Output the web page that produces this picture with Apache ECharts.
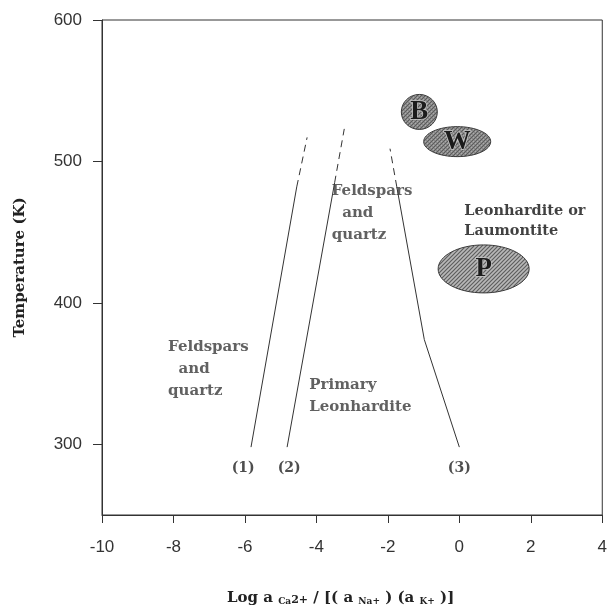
<!DOCTYPE html>
<html>
<head>
<meta charset="utf-8">
<script src="https://cdn.jsdelivr.net/npm/echarts@6/dist/echarts.min.js"></script>
<style>html,body{margin:0;padding:0;background:#fff;}#c{width:610px;height:608px;}</style>
</head>
<body>
<div id="c"></div>
<script>
// ---- data ----
const xMin = -10, xMax = 4, xInterval = 2;
const yMin = 250, yMax = 600;
const yTicks = [300, 400, 500, 600];

// boundary lines (x = log activity ratio, y = temperature K)
const line1Solid = [[-5.83, 298], [-4.55, 482]];
const line1Dashed = [[-4.55, 482], [-4.26, 517]];
const line2Solid = [[-4.82, 298], [-3.49, 485]];
const line2Dashed = [[-3.49, 485], [-3.22, 523]];
const line3Solid = [[0.0, 298], [-0.98, 374], [-1.75, 482]];
const line3Dashed = [[-1.75, 482], [-1.94, 509]];

// sample fields
const fieldNames = ['B', 'W', 'P'];
const fieldCenters = [[-1.12, 535], [-0.06, 514], [0.68, 424]];

// annotations
const annoLabels = ['(1)', '(2)', '(3)'];
const annoLabelPos = [[-6.05, 283], [-4.76, 283], [0.0, 283]];
const regionTexts = ['Feldspars\n  and\nquartz', 'Feldspars\n  and\nquartz', 'Primary\nLeonhardite'];
const regionPos = [[-8.15, 353], [-3.57, 463.5], [-4.2, 334]];
const darkText = 'Leonhardite or\nLaumontite';
const darkTextPos = [0.14, 458];

// ---- patterns ----
function stipple(bg, dark, light) {
  const c = document.createElement('canvas');
  c.width = 4; c.height = 4;
  const g = c.getContext('2d');
  g.fillStyle = bg; g.fillRect(0, 0, 4, 4);
  g.fillStyle = dark;
  g.fillRect(0, 0, 1, 1); g.fillRect(2, 2, 1, 1); g.fillRect(1, 3, 1, 1); g.fillRect(3, 1, 1, 1);
  g.fillStyle = light;
  g.fillRect(1, 1, 1, 1); g.fillRect(3, 3, 1, 1);
  return c;
}
function hatch(bg, fg) {
  const c = document.createElement('canvas');
  c.width = 4; c.height = 4;
  const g = c.getContext('2d');
  g.fillStyle = bg; g.fillRect(0, 0, 4, 4);
  g.strokeStyle = fg; g.lineWidth = 1.2;
  g.beginPath();
  g.moveTo(0, 4); g.lineTo(4, 0);
  g.moveTo(-1, 1); g.lineTo(1, -1);
  g.moveTo(3, 5); g.lineTo(5, 3);
  g.stroke();
  return c;
}
const patBW = { image: stipple('#888888', '#5c5c5c', '#acacac'), repeat: 'repeat' };
const patP = { image: hatch('#b8b8b8', '#5e5e5e'), repeat: 'repeat' };
const fieldSizes = [[36, 35], [67, 30], [91, 48]];
const fieldFills = [patBW, patBW, patP];

const serif = 'DejaVu Serif';
const lineStyleBase = { color: '#333', width: 1 };

function lineSeries(data, dashed) {
  return {
    type: 'line', data: data, symbol: 'none', silent: true, z: 2,
    lineStyle: Object.assign({}, lineStyleBase, { type: dashed ? [7, 5] : 'solid' })
  };
}

const chart = echarts.init(document.getElementById('c'), null, { renderer: 'canvas' });
chart.setOption({
  animation: false,
  backgroundColor: '#fff',
  title: {
    text: '{b|Log a }{s|Ca}{m|2+}{b| / [( a }{s|Na+}{b| ) (a }{s|K+}{b| )]}',
    left: 222, top: 586,
    textStyle: {
      rich: {
        b: { fontFamily: serif, fontWeight: 'bold', fontSize: 15, color: '#222', verticalAlign: 'bottom' },
        s: { fontFamily: serif, fontWeight: 'bold', fontSize: 9, color: '#222', verticalAlign: 'bottom' },
        m: { fontFamily: serif, fontWeight: 'bold', fontSize: 11, color: '#222', verticalAlign: 'bottom' }
      }
    }
  },
  grid: { left: 102, right: 4, top: 20, bottom: 93, show: true, borderColor: '#333', borderWidth: 1 },
  xAxis: {
    type: 'value', min: xMin, max: xMax, interval: xInterval,
    axisLine: { show: true, onZero: false, lineStyle: { color: '#333' } },
    axisTick: { show: true, length: 8, lineStyle: { color: '#333' } },
    splitLine: { show: false },
    axisLabel: { margin: 24, fontFamily: 'Liberation Sans', fontSize: 17, color: '#333', showMaxLabel: true }
  },
  yAxis: {
    type: 'value', min: yMin, max: yMax,
    name: 'Temperature (K)', nameLocation: 'middle', nameRotate: 90, nameGap: 74,
    nameTextStyle: { fontFamily: serif, fontWeight: 'bold', fontSize: 15, color: '#222' },
    axisLine: { show: true, onZero: false, lineStyle: { color: '#333' } },
    axisTick: { show: true, length: 9, customValues: yTicks, lineStyle: { color: '#333' } },
    splitLine: { show: false },
    axisLabel: { margin: 20, fontFamily: 'Liberation Sans', fontSize: 17, color: '#333', customValues: yTicks }
  },
  series: [
    lineSeries(line1Solid, false), lineSeries(line1Dashed, true),
    lineSeries(line2Solid, false), lineSeries(line2Dashed, true),
    lineSeries(line3Solid, false), lineSeries(line3Dashed, true),
    {
      type: 'custom', silent: true, z: 4,
      data: fieldNames.map((n, i) => ({ name: n, value: fieldCenters[i] })),
      renderItem: function (params, api) {
        const i = params.dataIndex;
        const p = api.coord([api.value(0), api.value(1)]);
        return {
          type: 'ellipse',
          shape: { cx: p[0], cy: p[1], rx: fieldSizes[i][0] / 2, ry: fieldSizes[i][1] / 2 },
          style: { fill: fieldFills[i], stroke: '#3a3a3a', lineWidth: 1 },
          textContent: {
            style: {
              text: fieldNames[i], fontFamily: 'Liberation Serif', fontWeight: 'bold', fontSize: 27,
              fill: '#1c1c1c', stroke: '#c8c8c8', lineWidth: 1.5
            }
          },
          textConfig: { position: 'inside' }
        };
      }
    },
    {
      type: 'scatter', silent: true, symbolSize: 0, z: 5,
      data: annoLabels.map((t, i) => ({ name: t, value: annoLabelPos[i] })),
      label: { show: true, position: 'inside', formatter: '{b}', fontFamily: serif, fontWeight: 'bold', fontSize: 14, color: '#222' }
    },
    {
      type: 'scatter', silent: true, symbolSize: 0, z: 5,
      data: regionTexts.map((t, i) => ({ name: t, value: regionPos[i] })),
      label: { show: true, position: 'right', distance: 0, align: 'left', formatter: '{b}', lineHeight: 22,
        fontFamily: serif, fontWeight: 'bold', fontSize: 15, color: '#3a3a3a' }
    },
    {
      type: 'scatter', silent: true, symbolSize: 0, z: 5,
      data: [{ name: darkText, value: darkTextPos }],
      label: { show: true, position: 'right', distance: 0, align: 'left', formatter: '{b}', lineHeight: 20,
        fontFamily: serif, fontWeight: 'bold', fontSize: 14.5, color: '#111' }
    }
  ]
});
</script>
</body>
</html>
